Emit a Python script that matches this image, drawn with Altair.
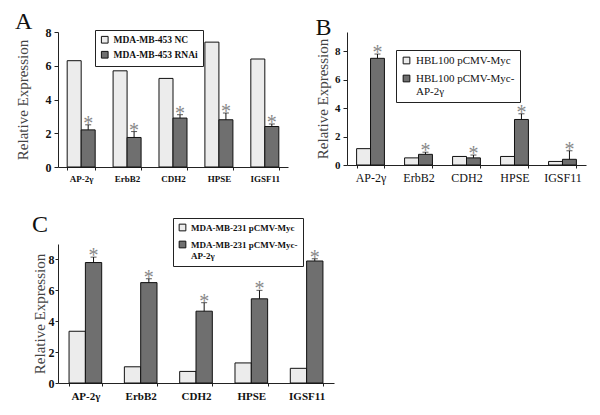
import altair as alt
import pandas as pd

genes = ["AP-2γ", "ErbB2", "CDH2", "HPSE", "IGSF11"]

a_series = ["MDA-MB-453 NC", "MDA-MB-453 RNAi"]
a_ctrl = [6.3, 5.7, 5.25, 7.4, 6.4]
a_trt = [2.2, 1.75, 2.9, 2.8, 2.4]
a_err = [0.3, 0.35, 0.2, 0.4, 0.15]

b_series = ["HBL100 pCMV-Myc", "HBL100 pCMV-Myc-AP-2γ"]
b_ctrl = [1.15, 0.5, 0.6, 0.6, 0.25]
b_trt = [7.5, 0.75, 0.5, 3.2, 0.4]
b_err = [0.3, 0.15, 0.2, 0.4, 0.6]

c_series = ["MDA-MB-231 pCMV-Myc", "MDA-MB-231 pCMV-Myc-AP-2γ"]
c_ctrl = [3.35, 1.05, 0.75, 1.3, 0.95]
c_trt = [7.8, 6.5, 4.65, 5.45, 7.9]
c_err = [0.35, 0.25, 0.55, 0.55, 0.15]

FONT = "Liberation Serif"
LIGHT = "#ececec"
DARK = "#6f6f6f"


def panel(letter, series, ctrl, trt, err, width, height, ymax, ytop,
          xlab_size, xlab_weight, ylab_size, title_pad, label_pad, tick_size,
          leg_x, leg_y, leg_size, leg_weight, leg_row, pad_inner, pad_outer,
          title_offset):
    df = pd.DataFrame({
        "gene": genes * 2,
        "series": [series[0]] * len(genes) + [series[1]] * len(genes),
        "value": ctrl + trt,
    })
    edf = pd.DataFrame({
        "gene": genes,
        "series": [series[1]] * len(genes),
        "value": trt,
        "top": [v + e for v, e in zip(trt, err)],
    })
    x = alt.X("gene:N", sort=genes,
              scale=alt.Scale(paddingInner=pad_inner, paddingOuter=pad_outer),
              axis=alt.Axis(title=None, labelAngle=0, tickBand="extent",
                            labelFont=FONT, labelFontSize=xlab_size,
                            labelFontWeight=xlab_weight, labelColor="#111",
                            domainColor="#222", tickColor="#222", tickSize=3,
                            labelPadding=4))
    xo = alt.XOffset("series:N", sort=series, scale=alt.Scale(domain=series))
    yscale = alt.Scale(domain=[0, ytop], nice=False)
    yaxis = alt.Axis(values=alt.ExprRef(expr="sequence(0, %d)" % (ymax + 1)),
                     tickCount=alt.ExprRef(expr=str(ymax)),
                     title="Relative Expression",
                     grid=False, titleFont=FONT, titleFontSize=15,
                     titleFontWeight="normal", titleColor="#444",
                     labelFont=FONT, labelFontSize=ylab_size,
                     labelFontWeight="bold", labelColor="#111",
                     labelOverlap=False, labelFlush=False,
                     domainColor="#222", tickColor="#222", tickSize=tick_size,
                     labelPadding=label_pad, titlePadding=title_pad)
    legend_label = ("datum.label == '" + series[1] + "' && length(datum.label) > 18 ? "
                    "[replace(datum.label, 'AP-2γ', ''), 'AP-2γ'] : datum.label")
    color = alt.Color(
        "series:N", sort=series,
        scale=alt.Scale(domain=series, range=[LIGHT, DARK]),
        legend=alt.Legend(title=None, orient="none", legendX=leg_x, legendY=leg_y,
                          strokeColor="#222", padding=5, symbolType="square",
                          symbolSize=45, symbolStrokeColor="#111",
                          symbolStrokeWidth=1, labelFont=FONT,
                          labelFontSize=leg_size, labelFontWeight=leg_weight,
                          labelColor="#111", labelExpr=legend_label,
                          labelLimit=300, rowPadding=leg_row))
    bars = alt.Chart(df).mark_bar(stroke="#111", strokeWidth=1).encode(
        x=x, xOffset=xo,
        y=alt.Y("value:Q", scale=yscale, axis=yaxis),
        color=color,
    )
    rule = alt.Chart(edf).mark_rule(color="#111", strokeWidth=1).encode(
        x=x, xOffset=xo, y=alt.Y("value:Q", scale=yscale, axis=yaxis),
        y2="top:Q")
    cap = alt.Chart(edf).mark_tick(color="#111", thickness=1, size=6).encode(
        x=x, xOffset=xo, y=alt.Y("top:Q", scale=yscale, axis=yaxis))
    star = alt.Chart(edf).mark_text(text="*", font=FONT, fontSize=20,
                                    color="#888", baseline="alphabetic", dy=5).encode(
        x=x, xOffset=xo, y=alt.Y("top:Q", scale=yscale, axis=yaxis))
    return alt.layer(bars, rule, cap, star).properties(
        width=width, height=height,
        title=alt.TitleParams(letter, anchor="start", frame="bounds",
                              font=FONT, fontSize=24, fontWeight="normal",
                              color="#111", offset=title_offset),
    )


pa = panel("A", a_series, a_ctrl, a_trt, a_err, 230, 135, 8, 8,
           9, "bold", 12, 15, 3, 4, 37, -2, 9.5, "bold", 3, 0.39, 0.2, -8)
pb = panel("B", b_series, b_ctrl, b_trt, b_err, 239, 133, 9, 9.35,
           12, "normal", 11, 4, 3, 4, 49, 18, 11, "normal", 6, 0.42, 0.2, -8)
pc = panel("C", c_series, c_ctrl, c_trt, c_err, 276, 139, 9, 9,
           11, "bold", 12, 1, 1, 3, 115, -26, 9, "bold", 6, 0.41, 0.2, -19)

res = dict(color="independent", x="independent", y="independent",
           xOffset="independent")
top = alt.hconcat(pa, pb, spacing=27).resolve_scale(**res).resolve_legend(
    color="independent")
bottom = alt.hconcat(pc, spacing=27).resolve_scale(**res).resolve_legend(
    color="independent")
chart = alt.vconcat(top, bottom, spacing=29).resolve_scale(**res).resolve_legend(
    color="independent").properties(
    padding={"left": 6, "top": 2, "right": 5, "bottom": 5},
    background="white",
).configure_view(stroke=None)

chart.save("out.html", embed_options={"renderer": "svg", "actions": False})
